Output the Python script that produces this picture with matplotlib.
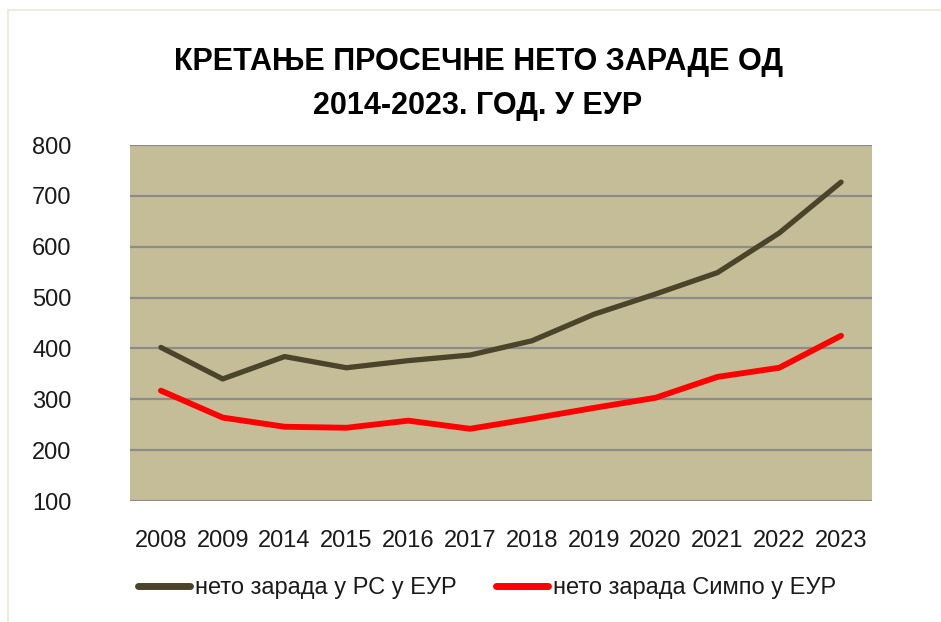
import matplotlib.pyplot as plt
from matplotlib.lines import Line2D
import numpy as np

years = ['2008', '2009', '2014', '2015', '2016', '2017',
         '2018', '2019', '2020', '2021', '2022', '2023']
rs_eur = [402, 340, 384, 362, 376, 387, 415, 467, 507, 549, 627, 727]
simpo_eur = [317, 264, 246, 244, 258, 242, 262, 283, 303, 344, 362, 425]

title = 'КРЕТАЊЕ ПРОСЕЧНЕ НЕТО ЗАРАДЕ ОД\n2014-2023. ГОД. У ЕУР'
label_rs = 'нето зарада у РС у ЕУР'
label_simpo = 'нето зарада Симпо у ЕУР'

plain = ['Liberation Sans', 'DejaVu Sans']

fig = plt.figure(figsize=(9.41, 6.22), dpi=100)
ax = fig.add_axes([130/941, 1-501/622, 742/941, 356/622])
ax.set_facecolor('#C4BD97')

x = np.arange(len(years))
ax.plot(x, rs_eur, color='#4A452A', lw=3.8, solid_capstyle='round', label=label_rs)
ax.plot(x, simpo_eur, color='#FF0000', lw=4.2, solid_capstyle='round', label=label_simpo)

ax.set_xlim(-0.5, len(years)-0.5)
ax.set_ylim(100, 800)
ax.set_yticks(range(100, 801, 100))
ax.set_xticks(x)
ax.set_xticklabels(years)
ax.yaxis.grid(True, color='#8C8C8C', lw=1.6)
ax.set_axisbelow(True)
for s in ax.spines.values():
    s.set_visible(False)
ax.tick_params(axis='both', length=0)
ax.tick_params(axis='y', pad=42)
ax.tick_params(axis='x', pad=21)
for t in ax.get_yticklabels() + ax.get_xticklabels():
    t.set_family(plain)
    t.set_fontsize(17)
    t.set_color('#1a1a1a')

fig.text(0.508, 1-84/622, title, ha='center', va='center', family=plain,
         fontweight='bold', fontsize=22, linespacing=1.6)

leg = fig.legend(loc='center', bbox_to_anchor=(487/941, 1-588/622), ncol=2,
                 frameon=False, prop={'family': plain, 'size': 17},
                 handlelength=2.2, handletextpad=0.2, columnspacing=1.7)
for t in leg.get_texts():
    t.set_color('#1a1a1a')
for h in leg.legend_handles:
    h.set_linewidth(5)

# faint border of the chart frame
fig.add_artist(Line2D([8/941, 1], [1-10/622, 1-10/622], color='#EEEBE0', lw=1.5))
fig.add_artist(Line2D([8/941, 8/941], [0, 1-10/622], color='#EEEBE0', lw=1.5))

plt.savefig('out.png', dpi=100)
